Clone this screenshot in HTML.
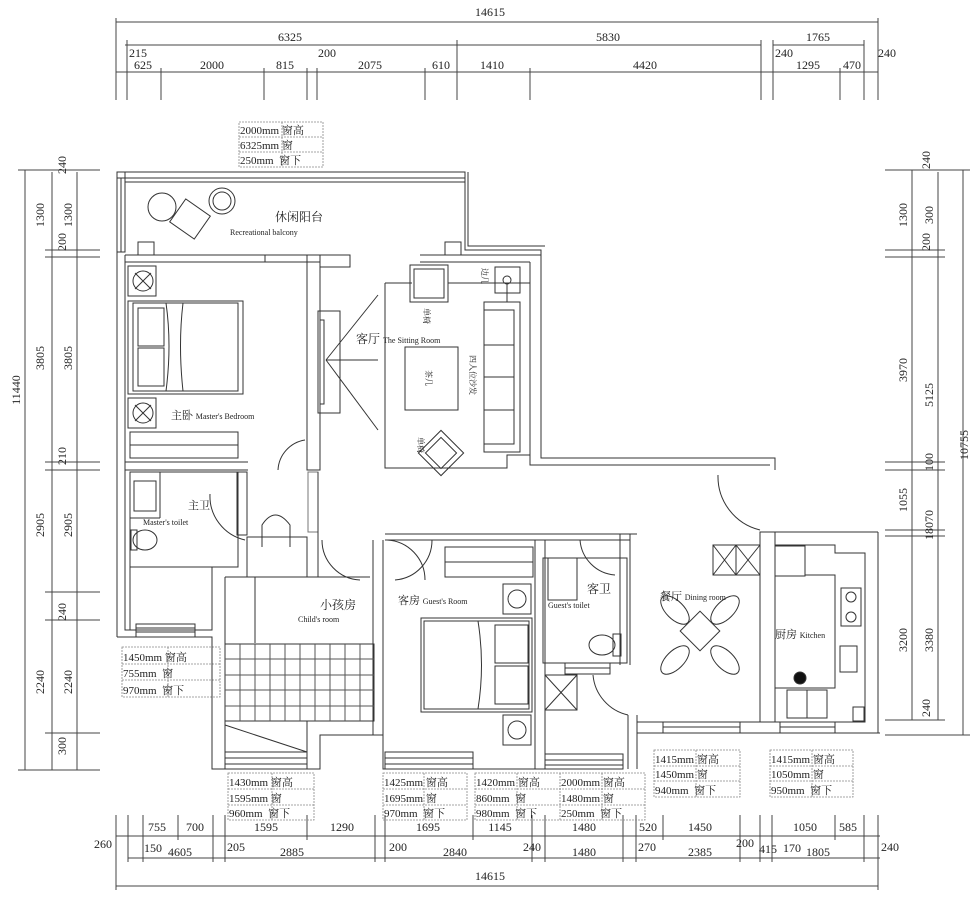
<!DOCTYPE html>
<html><head><meta charset="utf-8"><style>
html,body{margin:0;padding:0;background:#fff;}
svg{display:block;}
text{font-family:"Liberation Serif","Noto Serif CJK SC","Noto Sans CJK SC",serif;fill:#222;}
.d{font-size:12px;}
.s{font-size:8px;}
.l{font-size:11px;}
</style></head><body>
<svg width="976" height="900" viewBox="0 0 976 900" xmlns="http://www.w3.org/2000/svg">
<g stroke="#444" stroke-width="1" fill="none">
<!-- TOP DIMENSIONS -->
<line x1="116" y1="22" x2="878" y2="22"/>
<line x1="125" y1="45" x2="457" y2="45"/>
<line x1="457" y1="45" x2="761" y2="45"/>
<line x1="773" y1="45" x2="864" y2="45"/>
<line x1="116" y1="72" x2="878" y2="72"/>
<g>
<line x1="116" y1="18" x2="116" y2="100"/><line x1="127" y1="40" x2="127" y2="100"/><line x1="161" y1="68" x2="161" y2="100"/>
<line x1="264" y1="68" x2="264" y2="100"/><line x1="307" y1="68" x2="307" y2="100"/><line x1="317" y1="68" x2="317" y2="100"/>
<line x1="425" y1="68" x2="425" y2="100"/><line x1="457" y1="40" x2="457" y2="100"/><line x1="530" y1="68" x2="530" y2="100"/>
<line x1="761" y1="40" x2="761" y2="100"/><line x1="773" y1="40" x2="773" y2="100"/><line x1="840" y1="68" x2="840" y2="100"/>
<line x1="864" y1="40" x2="864" y2="100"/><line x1="878" y1="18" x2="878" y2="100"/>
</g>
<!-- LEFT DIMENSIONS -->
<line x1="25" y1="170" x2="25" y2="770"/>
<line x1="52" y1="172" x2="52" y2="770"/>
<line x1="77" y1="172" x2="77" y2="770"/>
<g>
<line x1="18" y1="170" x2="100" y2="170"/><line x1="45" y1="250" x2="100" y2="250"/><line x1="45" y1="257" x2="100" y2="257"/>
<line x1="45" y1="462" x2="100" y2="462"/><line x1="45" y1="470" x2="100" y2="470"/><line x1="45" y1="592" x2="100" y2="592"/>
<line x1="45" y1="620" x2="100" y2="620"/><line x1="45" y1="733" x2="100" y2="733"/><line x1="18" y1="770" x2="100" y2="770"/>
</g>
<!-- RIGHT DIMENSIONS -->
<line x1="912" y1="170" x2="912" y2="720"/>
<line x1="938" y1="172" x2="938" y2="720"/>
<line x1="963" y1="170" x2="963" y2="735"/>
<g>
<line x1="885" y1="170" x2="970" y2="170"/><line x1="885" y1="250" x2="945" y2="250"/><line x1="885" y1="257" x2="945" y2="257"/>
<line x1="885" y1="462" x2="945" y2="462"/><line x1="885" y1="470" x2="945" y2="470"/><line x1="885" y1="530" x2="945" y2="530"/>
<line x1="885" y1="536" x2="945" y2="536"/><line x1="885" y1="720" x2="945" y2="720"/><line x1="885" y1="735" x2="970" y2="735"/>
</g>
<!-- BOTTOM DIMENSIONS -->
<line x1="116" y1="836" x2="880" y2="836"/>
<line x1="128" y1="858" x2="880" y2="858"/>
<line x1="116" y1="886" x2="878" y2="886"/>
<g>
<line x1="116" y1="815" x2="116" y2="890"/><line x1="128" y1="815" x2="128" y2="862"/><line x1="143" y1="815" x2="143" y2="862"/>
<line x1="178" y1="815" x2="178" y2="840"/><line x1="213" y1="815" x2="213" y2="862"/><line x1="225" y1="815" x2="225" y2="862"/>
<line x1="307" y1="815" x2="307" y2="840"/><line x1="375" y1="815" x2="375" y2="862"/><line x1="385" y1="815" x2="385" y2="862"/>
<line x1="473" y1="815" x2="473" y2="840"/><line x1="532" y1="815" x2="532" y2="862"/><line x1="545" y1="815" x2="545" y2="862"/>
<line x1="623" y1="815" x2="623" y2="862"/><line x1="636" y1="815" x2="636" y2="862"/><line x1="663" y1="815" x2="663" y2="840"/>
<line x1="740" y1="815" x2="740" y2="862"/><line x1="760" y1="815" x2="760" y2="862"/><line x1="772" y1="815" x2="772" y2="862"/>
<line x1="835" y1="815" x2="835" y2="840"/><line x1="864" y1="815" x2="864" y2="862"/><line x1="878" y1="815" x2="878" y2="890"/>
</g>
</g>

<!-- dimension text -->
<g class="d" text-anchor="middle">
<text x="490" y="16">14615</text>
<text x="290" y="41">6325</text><text x="608" y="41">5830</text><text x="818" y="41">1765</text>
<text x="138" y="57">215</text><text x="327" y="57">200</text><text x="784" y="57">240</text><text x="887" y="57">240</text>
<text x="143" y="69">625</text><text x="212" y="69">2000</text><text x="285" y="69">815</text><text x="370" y="69">2075</text>
<text x="441" y="69">610</text><text x="492" y="69">1410</text><text x="645" y="69">4420</text><text x="808" y="69">1295</text><text x="852" y="69">470</text>
<text x="157" y="831">755</text><text x="195" y="831">700</text><text x="266" y="831">1595</text><text x="342" y="831">1290</text>
<text x="428" y="831">1695</text><text x="500" y="831">1145</text><text x="584" y="831">1480</text><text x="648" y="831">520</text>
<text x="700" y="831">1450</text><text x="745" y="847">200</text><text x="805" y="831">1050</text><text x="848" y="831">585</text>
<text x="103" y="848">260</text><text x="153" y="852">150</text><text x="180" y="856">4605</text><text x="236" y="851">205</text>
<text x="292" y="856">2885</text><text x="398" y="851">200</text><text x="455" y="856">2840</text><text x="532" y="851">240</text>
<text x="584" y="856">1480</text><text x="647" y="851">270</text><text x="700" y="856">2385</text><text x="768" y="853">415</text>
<text x="792" y="852">170</text><text x="818" y="856">1805</text><text x="890" y="851">240</text>
<text x="490" y="880">14615</text>
</g>
<g class="d" text-anchor="middle">
<text transform="translate(66,165) rotate(-90)">240</text>
<text transform="translate(44,215) rotate(-90)">1300</text><text transform="translate(72,215) rotate(-90)">1300</text>
<text transform="translate(66,242) rotate(-90)">200</text>
<text transform="translate(44,358) rotate(-90)">3805</text><text transform="translate(72,358) rotate(-90)">3805</text>
<text transform="translate(66,456) rotate(-90)">210</text>
<text transform="translate(20,390) rotate(-90)">11440</text>
<text transform="translate(44,525) rotate(-90)">2905</text><text transform="translate(72,525) rotate(-90)">2905</text>
<text transform="translate(66,612) rotate(-90)">240</text>
<text transform="translate(44,682) rotate(-90)">2240</text><text transform="translate(72,682) rotate(-90)">2240</text>
<text transform="translate(66,746) rotate(-90)">300</text>
<text transform="translate(930,160) rotate(-90)">240</text>
<text transform="translate(907,215) rotate(-90)">1300</text><text transform="translate(933,215) rotate(-90)">300</text>
<text transform="translate(930,242) rotate(-90)">200</text>
<text transform="translate(907,370) rotate(-90)">3970</text><text transform="translate(933,395) rotate(-90)">5125</text>
<text transform="translate(933,462) rotate(-90)">100</text><text transform="translate(968,445) rotate(-90)">10755</text>
<text transform="translate(907,500) rotate(-90)">1055</text><text transform="translate(933,525) rotate(-90)">18070</text>
<text transform="translate(907,640) rotate(-90)">3200</text><text transform="translate(933,640) rotate(-90)">3380</text>
<text transform="translate(930,708) rotate(-90)">240</text>
</g>

<!-- WINDOW TABLES -->
<g stroke="#888" stroke-width="0.8" stroke-dasharray="2,1" fill="none">
<rect x="239" y="122" width="84" height="45"/><line x1="239" y1="137" x2="323" y2="137"/><line x1="239" y1="152" x2="323" y2="152"/><line x1="282" y1="122" x2="282" y2="167"/>
<rect x="122" y="647" width="98" height="50"/><line x1="122" y1="664" x2="220" y2="664"/><line x1="122" y1="680" x2="220" y2="680"/><line x1="168" y1="647" x2="168" y2="697"/>
<rect x="228" y="773" width="86" height="47"/><line x1="228" y1="789" x2="314" y2="789"/><line x1="228" y1="805" x2="314" y2="805"/><line x1="272" y1="773" x2="272" y2="820"/>
<rect x="383" y="773" width="84" height="47"/><line x1="383" y1="789" x2="467" y2="789"/><line x1="383" y1="805" x2="467" y2="805"/><line x1="424" y1="773" x2="424" y2="820"/>
<rect x="475" y="773" width="170" height="47"/><line x1="475" y1="789" x2="645" y2="789"/><line x1="475" y1="805" x2="645" y2="805"/><line x1="517" y1="773" x2="517" y2="820"/><line x1="560" y1="773" x2="560" y2="820"/><line x1="602" y1="773" x2="602" y2="820"/>
<rect x="654" y="750" width="86" height="47"/><line x1="654" y1="766" x2="740" y2="766"/><line x1="654" y1="781" x2="740" y2="781"/><line x1="696" y1="750" x2="696" y2="797"/>
<rect x="770" y="750" width="83" height="47"/><line x1="770" y1="766" x2="853" y2="766"/><line x1="770" y1="781" x2="853" y2="781"/><line x1="812" y1="750" x2="812" y2="797"/>
</g>
<g class="l">
<text x="240" y="134">2000mm 窗高</text><text x="240" y="149">6325mm 窗</text><text x="240" y="164">250mm &#160;窗下</text>
<text x="123" y="661">1450mm 窗高</text><text x="123" y="677">755mm &#160;窗</text><text x="123" y="694">970mm &#160;窗下</text>
<text x="229" y="786">1430mm 窗高</text><text x="229" y="802">1595mm 窗</text><text x="229" y="817">960mm &#160;窗下</text>
<text x="384" y="786">1425mm 窗高</text><text x="384" y="802">1695mm 窗</text><text x="384" y="817">970mm &#160;窗下</text>
<text x="476" y="786">1420mm 窗高</text><text x="476" y="802">860mm &#160;窗</text><text x="476" y="817">980mm &#160;窗下</text>
<text x="561" y="786">2000mm 窗高</text><text x="561" y="802">1480mm 窗</text><text x="561" y="817">250mm &#160;窗下</text>
<text x="655" y="763">1415mm 窗高</text><text x="655" y="778">1450mm 窗</text><text x="655" y="794">940mm &#160;窗下</text>
<text x="771" y="763">1415mm 窗高</text><text x="771" y="778">1050mm 窗</text><text x="771" y="794">950mm &#160;窗下</text>
</g>

<!-- PLAN WALLS -->
<g stroke="#333" stroke-width="1" fill="none">
<!-- outer -->
<polyline points="117,172 465,172 465,250 541,250 541,458 775,458 775,470"/>
<polyline points="468,172 468,246 545,246"/>
<rect x="117" y="172" width="348" height="6"/><line x1="125" y1="182" x2="465" y2="182"/>
<rect x="117" y="172" width="8" height="80"/><line x1="121" y1="178" x2="121" y2="252"/>
<line x1="117" y1="172" x2="117" y2="637"/>
<polyline points="117,637 212,637 212,769 320,769 320,735 383,735 383,769 547,769"/>
<polyline points="125,255 125,630 212,630"/>
<!-- balcony/bedroom wall -->
<line x1="125" y1="255" x2="320" y2="255"/><line x1="125" y1="262" x2="320" y2="262"/>
<rect x="307" y="255" width="13" height="215"/>
<rect x="320" y="255" width="30" height="12"/>
<rect x="138" y="242" width="16" height="13"/><rect x="445" y="242" width="16" height="13"/>
<line x1="420" y1="255" x2="541" y2="255"/><line x1="420" y1="262" x2="530" y2="262"/>
<!-- living right wall -->
<polyline points="530,262 530,465 770,465"/>
<!-- master bedroom bottom -->
<line x1="125" y1="462" x2="248" y2="462"/><line x1="125" y1="470" x2="248" y2="470"/>
<rect x="130" y="472" width="108" height="95"/>
<line x1="160" y1="472" x2="160" y2="518"/><line x1="130" y1="518" x2="160" y2="518"/>
<rect x="237" y="472" width="10" height="63"/>
<rect x="308" y="472" width="10" height="60" stroke="#777"/>
<rect x="247" y="537" width="60" height="40"/>
<line x1="318" y1="472" x2="318" y2="577"/><line x1="238" y1="577" x2="318" y2="577"/>
<!-- master shower -->
<rect x="130" y="567" width="82" height="63"/>
<!-- child room -->
<line x1="225" y1="577" x2="225" y2="769"/><line x1="225" y1="577" x2="370" y2="577"/>
<line x1="255" y1="577" x2="255" y2="643"/>
<line x1="373" y1="540" x2="373" y2="735"/><line x1="383" y1="540" x2="383" y2="735"/>
<!-- guest room -->
<line x1="385" y1="534" x2="637" y2="534"/><line x1="385" y1="540" x2="630" y2="540"/>
<line x1="535" y1="540" x2="535" y2="769"/><line x1="545" y1="540" x2="545" y2="769"/>
<line x1="620" y1="534" x2="620" y2="665"/><line x1="630" y1="534" x2="630" y2="665"/>
<rect x="543" y="558" width="84" height="105"/>
<rect x="545" y="675" width="32" height="35"/><line x1="545" y1="675" x2="577" y2="710"/><line x1="577" y1="675" x2="545" y2="710"/>
<line x1="628" y1="715" x2="628" y2="769"/><line x1="637" y1="715" x2="637" y2="769"/>
<line x1="637" y1="722" x2="760" y2="722"/><line x1="637" y1="733" x2="880" y2="733"/>
<!-- kitchen -->
<rect x="760" y="532" width="15" height="190"/>
<line x1="775" y1="532" x2="878" y2="532"/><line x1="878" y1="532" x2="878" y2="733"/>
<polyline points="775,545 835,545 835,553 865,553 865,722 775,722"/>
<rect x="775" y="546" width="30" height="30"/>
<polyline points="805,575 835,575 835,688 775,688"/>
<rect x="841" y="588" width="20" height="38"/><circle cx="851" cy="597" r="5"/><circle cx="851" cy="617" r="5"/>
<rect x="840" y="646" width="17" height="26"/>
<rect x="787" y="690" width="40" height="28"/><line x1="807" y1="690" x2="807" y2="718"/>
<rect x="853" y="707" width="11" height="14"/>
<rect x="713" y="545" width="47" height="30"/><line x1="713" y1="545" x2="736" y2="575"/><line x1="736" y1="545" x2="713" y2="575"/><line x1="736" y1="545" x2="760" y2="575"/><line x1="760" y1="545" x2="736" y2="575"/><line x1="736" y1="545" x2="736" y2="575"/>
<!-- windows (bottom) -->
<g>
<rect x="225" y="752" width="82" height="17"/><line x1="225" y1="758" x2="307" y2="758"/><line x1="225" y1="764" x2="307" y2="764"/>
<rect x="385" y="752" width="88" height="17"/><line x1="385" y1="758" x2="473" y2="758"/><line x1="385" y1="764" x2="473" y2="764"/>
<rect x="545" y="754" width="78" height="15"/><line x1="545" y1="760" x2="623" y2="760"/><line x1="545" y1="765" x2="623" y2="765"/>
<rect x="663" y="722" width="77" height="11"/><line x1="663" y1="727" x2="740" y2="727"/>
<rect x="780" y="722" width="55" height="11"/><line x1="780" y1="727" x2="835" y2="727"/>
<rect x="136" y="624" width="59" height="13"/><line x1="136" y1="628" x2="195" y2="628"/><line x1="136" y1="632" x2="195" y2="632"/>
<rect x="565" y="663" width="45" height="11"/><line x1="565" y1="668" x2="610" y2="668"/>
</g>
<rect x="225" y="721" width="82" height="31"/><line x1="225" y1="725" x2="307" y2="752"/>
<!-- tile grid -->
<rect x="225" y="644" width="149" height="77"/>
<g stroke="#555">
<line x1="240" y1="644" x2="240" y2="721"/><line x1="255" y1="644" x2="255" y2="721"/><line x1="270" y1="644" x2="270" y2="721"/><line x1="285" y1="644" x2="285" y2="721"/><line x1="300" y1="644" x2="300" y2="721"/><line x1="315" y1="644" x2="315" y2="721"/><line x1="330" y1="644" x2="330" y2="721"/><line x1="345" y1="644" x2="345" y2="721"/><line x1="360" y1="644" x2="360" y2="721"/>
<line x1="225" y1="659" x2="374" y2="659"/><line x1="225" y1="675" x2="374" y2="675"/><line x1="225" y1="690" x2="374" y2="690"/><line x1="225" y1="706" x2="374" y2="706"/>
</g>
<!-- master bed -->
<rect x="128" y="301" width="115" height="93"/><rect x="133" y="303" width="105" height="88"/>
<rect x="138" y="308" width="26" height="38"/><rect x="138" y="348" width="26" height="38"/>
<path d="M166 303 Q172 345 166 391"/><path d="M183 303 Q178 345 183 391"/>
<rect x="128" y="266" width="28" height="30"/><circle cx="143" cy="281" r="10"/><line x1="135" y1="273" x2="151" y2="289"/><line x1="151" y1="273" x2="135" y2="289"/>
<rect x="128" y="398" width="28" height="30"/><circle cx="143" cy="413" r="10"/><line x1="135" y1="405" x2="151" y2="421"/><line x1="151" y1="405" x2="135" y2="421"/>
<rect x="130" y="432" width="108" height="26"/><line x1="130" y1="445" x2="238" y2="445"/>
<!-- TV cabinet -->
<rect x="318" y="311" width="22" height="102"/><rect x="320" y="320" width="4" height="84"/>
<line x1="326" y1="360" x2="378" y2="295"/><line x1="326" y1="360" x2="378" y2="360"/><line x1="326" y1="360" x2="378" y2="430"/>
<!-- living -->
<polyline points="385,283 385,468 507,468 507,455 530,455"/><line x1="385" y1="283" x2="412" y2="283"/><line x1="448" y1="283" x2="530" y2="283"/>
<rect x="410" y="265" width="38" height="37"/><rect x="414" y="269" width="30" height="29"/>
<rect x="495" y="267" width="25" height="26"/><circle cx="507" cy="280" r="4"/><line x1="507" y1="284" x2="507" y2="302"/>
<rect x="484" y="302" width="36" height="150"/><rect x="484" y="310" width="30" height="134"/><line x1="484" y1="345" x2="514" y2="345"/><line x1="484" y1="377" x2="514" y2="377"/><line x1="484" y1="410" x2="514" y2="410"/>
<rect x="405" y="347" width="53" height="63"/>
<rect x="425" y="437" width="32" height="32" transform="rotate(45 441 453)"/><rect x="430" y="442" width="22" height="22" transform="rotate(45 441 453)"/>
<!-- guest -->
<rect x="445" y="547" width="88" height="30"/><line x1="445" y1="562" x2="533" y2="562"/>
<rect x="503" y="584" width="28" height="30"/><circle cx="517" cy="599" r="9"/>
<rect x="503" y="715" width="28" height="30"/><circle cx="517" cy="730" r="9"/>
<rect x="421" y="618" width="111" height="94"/><rect x="424" y="621" width="105" height="88"/>
<rect x="495" y="625" width="33" height="38"/><rect x="495" y="666" width="33" height="38"/>
<path d="M478 621 Q485 665 478 709"/>
<rect x="548" y="558" width="29" height="42"/>
<ellipse cx="602" cy="645" rx="13" ry="10"/><rect x="613" y="634" width="8" height="22"/>
<!-- master toilet -->
<ellipse cx="145" cy="540" rx="12" ry="10"/><rect x="131" y="530" width="6" height="20"/>
<rect x="134" y="481" width="22" height="30"/>
<path d="M262 547 L262 525 Q275 505 290 525 L290 547"/>
<!-- dining -->
<rect x="686" y="617" width="28" height="28" transform="rotate(45 700 631)"/>
<ellipse cx="675" cy="610" rx="18" ry="9" transform="rotate(45 675 610)"/>
<ellipse cx="725" cy="610" rx="18" ry="9" transform="rotate(-45 725 610)"/>
<ellipse cx="675" cy="660" rx="18" ry="9" transform="rotate(-45 675 660)"/>
<ellipse cx="725" cy="660" rx="18" ry="9" transform="rotate(45 725 660)"/>
<!-- balcony furniture -->
<circle cx="222" cy="201" r="13"/><circle cx="222" cy="201" r="9"/>
<circle cx="162" cy="207" r="14"/>
<rect x="175" y="205" width="30" height="28" transform="rotate(35 190 219)"/>
<circle cx="800" cy="678" r="6" fill="#111"/>
<!-- doors -->
<path d="M278 470 A32 32 0 0 1 305 440"/>
<path d="M210 494 A45 45 0 0 0 245 540"/>
<path d="M322 540 A40 40 0 0 0 360 580"/>
<path d="M387 540 A40 40 0 0 1 425 580"/>
<path d="M432 540 A40 40 0 0 1 395 580"/>
<path d="M580 540 A38 38 0 0 0 615 575"/>
<path d="M593 675 A45 45 0 0 0 628 715"/>
<path d="M718 475 A55 55 0 0 0 760 530"/>
<path d="M265 255 L265 262"/>
</g>
<!-- room labels -->
<g>
<text x="275" y="221" font-size="12">休闲阳台</text>
<text x="230" y="235" class="s">Recreational balcony</text>
<text x="171" y="419" font-size="11">主卧 <tspan class="s">Master's Bedroom</tspan></text>
<text x="356" y="343" font-size="12">客厅 <tspan class="s">The Sitting Room</tspan></text>
<text x="188" y="509" font-size="11">主卫</text>
<text x="143" y="525" class="s">Master's toilet</text>
<text x="320" y="609" font-size="12">小孩房</text>
<text x="298" y="622" class="s">Child's room</text>
<text x="398" y="604" font-size="11">客房 <tspan class="s">Guest's Room</tspan></text>
<text x="587" y="593" font-size="12">客卫</text>
<text x="548" y="608" class="s">Guest's toilet</text>
<text x="660" y="600" font-size="11">餐厅 <tspan class="s">Dining room</tspan></text>
<text x="775" y="638" font-size="11">厨房 <tspan class="s">Kitchen</tspan></text>
<text transform="translate(424,308) rotate(90)" class="s">单椅</text>
<text transform="translate(426,370) rotate(90)" class="s">茶几</text>
<text transform="translate(470,355) rotate(90)" class="s">四人位沙发</text>
<text transform="translate(482,268) rotate(90)" class="s">边几</text>
<text transform="translate(418,437) rotate(90)" class="s">单椅</text>
</g>
</svg>
</body></html>
